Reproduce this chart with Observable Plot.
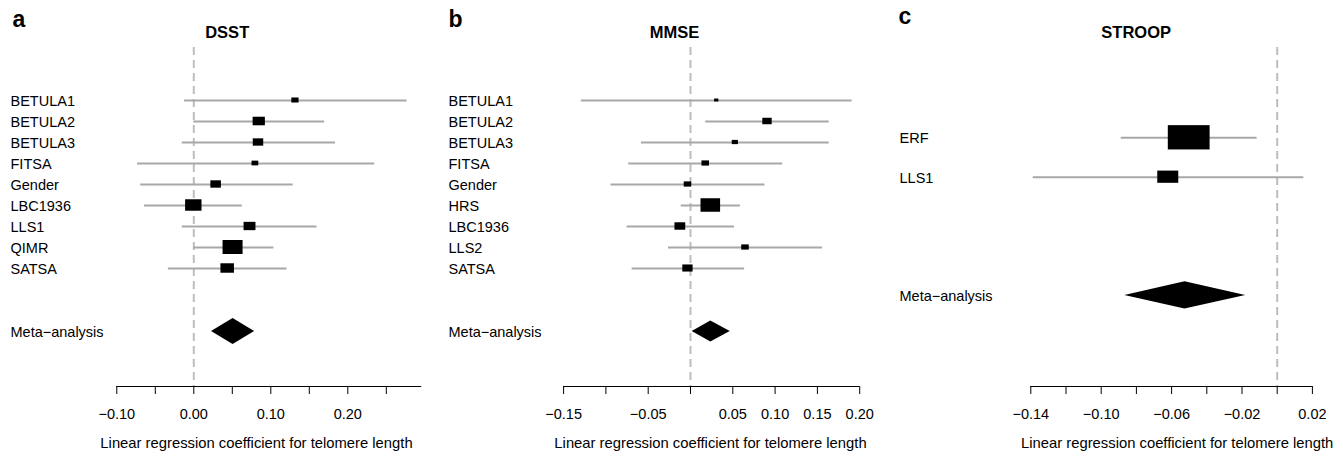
<!DOCTYPE html>
<html>
<head>
<meta charset="utf-8">
<script src="https://cdn.jsdelivr.net/npm/d3@7"></script>
<script src="https://cdn.jsdelivr.net/npm/@observablehq/plot@0.6"></script>
<style>
  html, body { margin: 0; padding: 0; background: white; overflow: hidden; }
  #wrap { display: flex; flex-direction: row; width: 1343px; height: 456px; }
  #wrap svg { display: block; }
</style>
</head>
<body>
<div id="wrap"></div>
<script>
// ---------- data ----------
const XLABEL = "Linear regression coefficient for telomere length";
const META_LABEL = "Meta−analysis";

// Panel a: DSST
const dsstStudies = ["BETULA1", "BETULA2", "BETULA3", "FITSA", "Gender", "LBC1936", "LLS1", "QIMR", "SATSA"];
const dsstEst = [0.132, 0.085, 0.084, 0.080, 0.029, 0.000, 0.073, 0.051, 0.044];
const dsstLo  = [-0.012, 0.000, -0.015, -0.073, -0.069, -0.064, -0.015, 0.000, -0.033];
const dsstHi  = [0.277, 0.170, 0.184, 0.235, 0.129, 0.063, 0.160, 0.104, 0.121];
const dsstMeta = [0.051, 0.023, 0.079]; // est, lo, hi
const dsstTicks = [-0.10, -0.05, 0.00, 0.05, 0.10, 0.15, 0.20, 0.25];
const dsstTickLabels = [-0.10, 0.00, 0.10, 0.20];

// Panel b: MMSE
const mmseStudies = ["BETULA1", "BETULA2", "BETULA3", "FITSA", "Gender", "HRS", "LBC1936", "LLS2", "SATSA"];
const mmseEst = [0.031, 0.091, 0.053, 0.018, -0.003, 0.024, -0.012, 0.065, -0.003];
const mmseLo  = [-0.129, 0.018, -0.058, -0.073, -0.094, -0.011, -0.075, -0.026, -0.069];
const mmseHi  = [0.191, 0.164, 0.164, 0.109, 0.088, 0.059, 0.052, 0.156, 0.064];
const mmseMeta = [0.024, 0.002, 0.047];
const mmseTicks = [-0.15, -0.10, -0.05, 0.00, 0.05, 0.10, 0.15, 0.20];
const mmseTickLabels = [-0.15, -0.05, 0.05, 0.10, 0.15, 0.20];

// Panel c: STROOP
const stroopStudies = ["ERF", "LLS1"];
const stroopEst = [-0.0500, -0.0619];
const stroopLo  = [-0.0886, -0.1386];
const stroopHi  = [-0.0114, 0.0151];
const stroopMeta = [-0.0524, -0.0866, -0.0179];
const stroopTicks = [-0.14, -0.12, -0.10, -0.08, -0.06, -0.04, -0.02, 0.00, 0.02];
const stroopTickLabels = [-0.14, -0.10, -0.06, -0.02, 0.02];

// ---------- drawing ----------
const FONT = "'Liberation Sans', Arial, Helvetica, sans-serif";
const fmt = d3.format(".2f");

function panel(c) {
  const H = 456, mt = 47, mb = 70;
  const pxX = (c.xRange[1] - c.xRange[0]) / (c.xDomain[1] - c.xDomain[0]);
  const rows = c.studies.map((s, i) => ({name: s, row: i, est: c.est[i], lo: c.lo[i], hi: c.hi[i]}));
  const minCI = d3.min(rows, d => d.hi - d.lo);
  const hPx = ci => c.boxMaxH * minCI / ci;   // box size ∝ precision
  rows.forEach(d => {
    const h = hPx(d.hi - d.lo);
    d.hh = h / 2 / c.rowPx;
    d.hw = h * c.aspect / 2 / pxX;
  });
  const [mEst, mLo, mHi] = c.meta;
  const mr = c.studies.length + 2;
  const dh = hPx(mHi - mLo) / 2 / c.rowPx;
  const diamond = [
    {x: mLo, y1: mr, y2: mr},
    {x: mEst, y1: mr - dh, y2: mr + dh},
    {x: mHi, y1: mr, y2: mr}
  ];
  const axisVal = (H - mb - c.y0) / c.rowPx;
  const labels = [...rows.map(d => ({name: d.name, row: d.row})), {name: META_LABEL, row: mr}];
  const at = (px, py) => ({frameAnchor: "top-left", dx: px - c.marginLeft, dy: py - mt, lineAnchor: "middle"});
  const isLabel = d => c.tickLabels.some(v => Math.abs(v - d) < 1e-9);

  return Plot.plot({
    width: c.width, height: H,
    marginTop: mt, marginBottom: mb, marginLeft: c.marginLeft, marginRight: c.marginRight,
    style: {fontFamily: FONT, fontSize: "14.5px", background: "white", color: "black", overflow: "visible"},
    x: {domain: c.xDomain, range: c.xRange},
    y: {domain: [0, 1], range: [c.y0, c.y0 + c.rowPx], axis: null},
    marks: [
      Plot.ruleX([0], {stroke: "#bdbdbd", strokeWidth: 2, strokeDasharray: "8,5"}),
      Plot.ruleY([axisVal], {x1: () => c.xDomain[0], x2: () => c.axisEnd, stroke: "black", strokeWidth: 1}),
      Plot.axisX({
        ticks: c.ticks, tickSize: 8, tickPadding: 14, label: null,
        tickFormat: d => isLabel(d) ? fmt(d) : "",
        stroke: "black", fill: "black", fontSize: 14.5
      }),
      Plot.ruleY(rows, {y: "row", x1: "lo", x2: "hi", stroke: "#a8a8a8", strokeWidth: 2}),
      Plot.rect(rows, {
        x1: d => d.est - d.hw, x2: d => d.est + d.hw,
        y1: d => d.row - d.hh, y2: d => d.row + d.hh,
        fill: "black"
      }),
      Plot.areaY(diamond, {x: "x", y1: "y1", y2: "y2", fill: "black", curve: "linear"}),
      Plot.text(labels, {
        y: "row", text: "name", frameAnchor: "left", dx: c.labelX - c.marginLeft, dy: 1,
        textAnchor: "start", lineAnchor: "middle", fontSize: 14.5, fill: "black"
      }),
      Plot.text([c.title], {...at(c.titleX, 32.4), text: d => d, fontWeight: "bold", fontSize: 16.5, fill: "black"}),
      Plot.text([c.letter], {...at(c.letterX, c.letterY), text: d => d, textAnchor: "start", fontWeight: "bold", fontSize: 23, fill: "black"}),
      Plot.text([XLABEL], {frameAnchor: "bottom", dy: 56.8, lineAnchor: "middle", text: d => d, fontSize: 14.8, fill: "black"})
    ]
  });
}

const wrap = document.getElementById("wrap");
wrap.append(panel({
  width: 430, marginLeft: 100, marginRight: 18,
  xDomain: [-0.10, 0.25], xRange: [116.3, 385.8], axisEnd: 0.296,
  ticks: dsstTicks, tickLabels: dsstTickLabels,
  y0: 100, rowPx: 21,
  studies: dsstStudies, est: dsstEst, lo: dsstLo, hi: dsstHi, meta: dsstMeta,
  boxMaxH: 14, aspect: 1.43,
  letter: "a", letterX: 12, letterY: 19.3, title: "DSST", titleX: 204.7, labelX: 10
}));
wrap.append(panel({
  width: 450, marginLeft: 130, marginRight: 20,
  xDomain: [-0.15, 0.20], xRange: [133.1, 429.2], axisEnd: 0.20,
  ticks: mmseTicks, tickLabels: mmseTickLabels,
  y0: 100, rowPx: 21,
  studies: mmseStudies, est: mmseEst, lo: mmseLo, hi: mmseHi, meta: mmseMeta,
  boxMaxH: 13.5, aspect: 1.45,
  letter: "b", letterX: 18, letterY: 19.3, title: "MMSE", titleX: 219.3, labelX: 18
}));
wrap.append(panel({
  width: 463, marginLeft: 140, marginRight: 9.6,
  xDomain: [-0.14, 0.02], xRange: [150.3, 431.9], axisEnd: 0.02,
  ticks: stroopTicks, tickLabels: stroopTickLabels,
  y0: 137.3, rowPx: 39.4,
  studies: stroopStudies, est: stroopEst, lo: stroopLo, hi: stroopHi, meta: stroopMeta,
  boxMaxH: 24.3, aspect: 1.72,
  letter: "c", letterX: 18, letterY: 16.6, title: "STROOP", titleX: 220.8, labelX: 19
}));
</script>
</body>
</html>
